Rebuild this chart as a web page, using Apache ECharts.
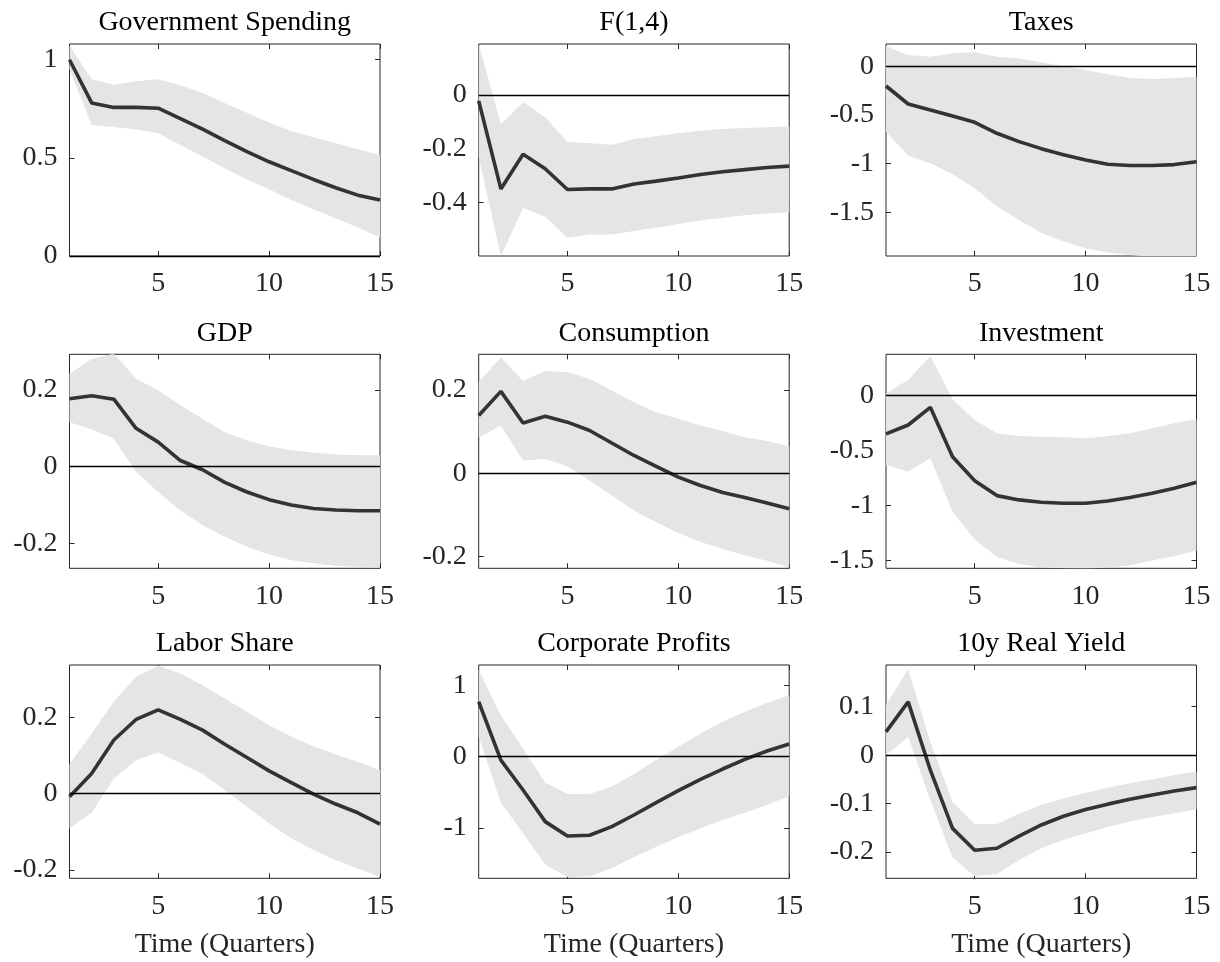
<!DOCTYPE html>
<html>
<head>
<meta charset="utf-8">
<script src="https://cdn.jsdelivr.net/npm/echarts@6/dist/echarts.min.js"></script>
<style>
html,body{margin:0;padding:0;background:#fff;}
#chart{width:1220px;height:962px;}
</style>
</head>
<body>
<div id="chart"></div>
<script>
// ---------------- DATA ----------------
const quarters = [1,2,3,4,5,6,7,8,9,10,11,12,13,14,15];
const panelTitles = ['Government Spending','F(1,4)','Taxes','GDP','Consumption','Investment','Labor Share','Corporate Profits','10y Real Yield'];
const xAxisTitle = 'Time (Quarters)';
const xTickLabels = [5, 10, 15];

const govSpendingIRF   = [1.00,0.78,0.757,0.757,0.753,0.70,0.646,0.588,0.532,0.48,0.435,0.39,0.348,0.31,0.285];
const govSpendingUpper = [1.07,0.90,0.872,0.89,0.90,0.87,0.83,0.78,0.73,0.68,0.635,0.605,0.575,0.544,0.515];
const govSpendingLower = [0.95,0.667,0.657,0.645,0.625,0.565,0.507,0.447,0.39,0.34,0.285,0.238,0.192,0.145,0.094];

const f14IRF   = [-0.022,-0.35,-0.221,-0.275,-0.352,-0.35,-0.35,-0.332,-0.321,-0.309,-0.296,-0.286,-0.278,-0.27,-0.265];
const f14Upper = [0.19,-0.109,-0.026,-0.084,-0.174,-0.18,-0.185,-0.164,-0.154,-0.143,-0.133,-0.127,-0.123,-0.12,-0.117];
const f14Lower = [-0.23,-0.60,-0.421,-0.454,-0.532,-0.52,-0.52,-0.507,-0.495,-0.481,-0.468,-0.457,-0.448,-0.442,-0.437];

const taxesIRF   = [-0.202,-0.387,-0.449,-0.51,-0.575,-0.688,-0.774,-0.846,-0.908,-0.962,-1.007,-1.02,-1.02,-1.01,-0.98];
const taxesUpper = [0.21,0.116,0.10,0.134,0.144,0.10,0.08,0.04,0.003,-0.038,-0.08,-0.12,-0.13,-0.12,-0.106];
const taxesLower = [-0.67,-0.92,-0.997,-1.11,-1.253,-1.44,-1.58,-1.71,-1.80,-1.87,-1.914,-1.94,-1.96,-1.97,-1.96];

const gdpIRF   = [0.177,0.185,0.176,0.10,0.064,0.016,-0.008,-0.041,-0.066,-0.086,-0.10,-0.109,-0.113,-0.115,-0.115];
const gdpUpper = [0.242,0.281,0.295,0.229,0.199,0.16,0.125,0.09,0.069,0.053,0.043,0.036,0.032,0.03,0.03];
const gdpLower = [0.116,0.097,0.073,-0.014,-0.066,-0.114,-0.153,-0.183,-0.209,-0.229,-0.244,-0.252,-0.259,-0.261,-0.263];

const consumptionIRF   = [0.139,0.197,0.121,0.137,0.123,0.103,0.073,0.043,0.017,-0.009,-0.029,-0.046,-0.058,-0.071,-0.085];
const consumptionUpper = [0.219,0.279,0.222,0.246,0.243,0.227,0.199,0.171,0.147,0.131,0.115,0.102,0.087,0.078,0.065];
const consumptionLower = [0.086,0.115,0.031,0.035,0.017,-0.017,-0.053,-0.089,-0.117,-0.143,-0.165,-0.181,-0.197,-0.21,-0.226];

const investmentIRF   = [-0.348,-0.267,-0.106,-0.555,-0.773,-0.909,-0.948,-0.97,-0.979,-0.979,-0.958,-0.927,-0.888,-0.842,-0.788];
const investmentUpper = [0.02,0.142,0.36,-0.033,-0.221,-0.342,-0.367,-0.373,-0.379,-0.388,-0.367,-0.342,-0.297,-0.252,-0.215];
const investmentLower = [-0.63,-0.69,-0.57,-1.055,-1.31,-1.464,-1.53,-1.56,-1.57,-1.575,-1.56,-1.545,-1.50,-1.458,-1.41];

const laborShareIRF   = [-0.008,0.053,0.141,0.195,0.22,0.195,0.167,0.13,0.095,0.06,0.029,-0.001,-0.027,-0.05,-0.08];
const laborShareUpper = [0.078,0.158,0.242,0.307,0.336,0.316,0.285,0.25,0.215,0.18,0.15,0.125,0.104,0.084,0.062];
const laborShareLower = [-0.091,-0.05,0.04,0.088,0.108,0.081,0.052,0.01,-0.034,-0.078,-0.117,-0.148,-0.174,-0.196,-0.218];

const profitsIRF   = [0.773,-0.047,-0.468,-0.913,-1.115,-1.105,-0.984,-0.82,-0.646,-0.478,-0.318,-0.173,-0.037,0.08,0.178];
const profitsUpper = [1.218,0.585,0.117,-0.365,-0.525,-0.525,-0.42,-0.244,-0.047,0.14,0.328,0.492,0.632,0.759,0.866];
const profitsLower = [0.28,-0.646,-1.077,-1.52,-1.69,-1.68,-1.57,-1.414,-1.265,-1.133,-1.007,-0.89,-0.787,-0.68,-0.553];

const realYieldIRF   = [0.048,0.11,-0.031,-0.151,-0.196,-0.192,-0.167,-0.144,-0.126,-0.112,-0.101,-0.091,-0.082,-0.074,-0.067];
const realYieldUpper = [0.103,0.178,0.027,-0.096,-0.142,-0.142,-0.121,-0.103,-0.089,-0.078,-0.067,-0.058,-0.05,-0.041,-0.034];
const realYieldLower = [0.0,0.038,-0.093,-0.211,-0.25,-0.245,-0.216,-0.192,-0.175,-0.161,-0.148,-0.137,-0.128,-0.12,-0.112];

const yMin = [0,-0.6,-1.95,-0.265,-0.228,-1.57,-0.222,-1.71,-0.254];
const yMax = [1.08,0.19,0.23,0.293,0.286,0.376,0.338,1.29,0.186];
const yTickLabels = [
  [0,0.5,1],[-0.4,-0.2,0],[-1.5,-1,-0.5,0],
  [-0.2,0,0.2],[-0.2,0,0.2],[-1.5,-1,-0.5,0],
  [-0.2,0,0.2],[-1,0,1],[-0.2,-0.1,0,0.1]
];

const irfs   = [govSpendingIRF,f14IRF,taxesIRF,gdpIRF,consumptionIRF,investmentIRF,laborShareIRF,profitsIRF,realYieldIRF];
const uppers = [govSpendingUpper,f14Upper,taxesUpper,gdpUpper,consumptionUpper,investmentUpper,laborShareUpper,profitsUpper,realYieldUpper];
const lowers = [govSpendingLower,f14Lower,taxesLower,gdpLower,consumptionLower,investmentLower,laborShareLower,profitsLower,realYieldLower];

// ---------------- LAYOUT / STYLE ----------------
const colLeft = [69.5, 478.7, 886];
const colWidth = 310.5;
const rowTop = [44, 354.3, 665];
const rowHeight = [212, 214, 213.3];
const FONT = '"Liberation Serif", "Times New Roman", serif';
const FS = 28;
const AX = '#262626';

const grids = [], xAxes = [], yAxes = [], series = [], titles = [];

for (let i = 0; i < 9; i++) {
  const r = Math.floor(i / 3), c = i % 3;
  const left = colLeft[c], top = rowTop[r], h = rowHeight[r];
  grids.push({left: left, top: top, width: colWidth, height: h, show: true,
    borderColor: AX, borderWidth: 1, backgroundColor: 'transparent', containLabel: false});

  const xTickFn = (idx, val) => xTickLabels.indexOf(Number(val)) >= 0;
  const xBase = {type: 'category', gridIndex: i, data: quarters, boundaryGap: false,
    axisLine: {show: false, onZero: false}, splitLine: {show: false}};
  xAxes.push(Object.assign({}, xBase, {position: 'bottom',
    axisTick: {show: true, inside: true, length: 5, interval: xTickFn, lineStyle: {color: AX}},
    axisLabel: {show: true, interval: xTickFn, margin: 14, color: AX, fontFamily: FONT, fontSize: FS}}));
  xAxes.push(Object.assign({}, xBase, {position: 'top',
    axisTick: {show: true, inside: true, length: 5, interval: xTickFn, lineStyle: {color: AX}},
    axisLabel: {show: false}}));

  const yBase = {type: 'value', gridIndex: i, min: yMin[i], max: yMax[i],
    axisLine: {show: false, onZero: false}, splitLine: {show: false}};
  yAxes.push(Object.assign({}, yBase, {position: 'left',
    axisTick: {show: true, inside: true, length: 5, customValues: yTickLabels[i], lineStyle: {color: AX}},
    axisLabel: {show: true, customValues: yTickLabels[i], margin: 12, color: AX, fontFamily: FONT, fontSize: FS,
      formatter: v => String(v)}}));
  yAxes.push(Object.assign({}, yBase, {position: 'right',
    axisTick: {show: true, inside: true, length: 5, customValues: yTickLabels[i], lineStyle: {color: AX}},
    axisLabel: {show: false}}));

  const xi = i * 2, yi = i * 2;
  const bandDiff = uppers[i].map((u, k) => u - lowers[i][k]);
  series.push({type: 'line', xAxisIndex: xi, yAxisIndex: yi, data: lowers[i], stack: 'band' + i,
    stackStrategy: 'all', symbol: 'none', lineStyle: {opacity: 0, width: 0}, silent: true, z: 1, animation: false});
  series.push({type: 'line', xAxisIndex: xi, yAxisIndex: yi, data: bandDiff, stack: 'band' + i,
    stackStrategy: 'all', symbol: 'none', lineStyle: {opacity: 0, width: 0},
    areaStyle: {color: '#e5e5e5', opacity: 1}, silent: true, z: 1, animation: false});
  series.push({type: 'line', xAxisIndex: xi, yAxisIndex: yi, data: [], z: 2, animation: false, silent: true,
    markLine: {symbol: 'none', silent: true, animation: false, label: {show: false},
      lineStyle: {color: '#000', width: 1.3, type: 'solid'}, data: [{yAxis: 0}]}});
  series.push({type: 'line', xAxisIndex: xi, yAxisIndex: yi, data: irfs[i], symbol: 'none',
    lineStyle: {color: '#333333', width: 3.6}, z: 3, animation: false, silent: true});

  titles.push({text: panelTitles[i], left: left + colWidth / 2, top: top - 35, textAlign: 'center', padding: 0,
    textStyle: {fontFamily: FONT, fontSize: FS, fontWeight: 'normal', color: '#000'}});
  if (r === 2) {
    titles.push({text: xAxisTitle, left: left + colWidth / 2, top: 931, textAlign: 'center', padding: 0,
      textStyle: {fontFamily: FONT, fontSize: FS, fontWeight: 'normal', color: AX}});
  }
}

const chart = echarts.init(document.getElementById('chart'), null, {renderer: 'canvas'});
chart.setOption({
  backgroundColor: '#ffffff',
  animation: false,
  title: titles,
  grid: grids,
  xAxis: xAxes,
  yAxis: yAxes,
  series: series
});
</script>
</body>
</html>
